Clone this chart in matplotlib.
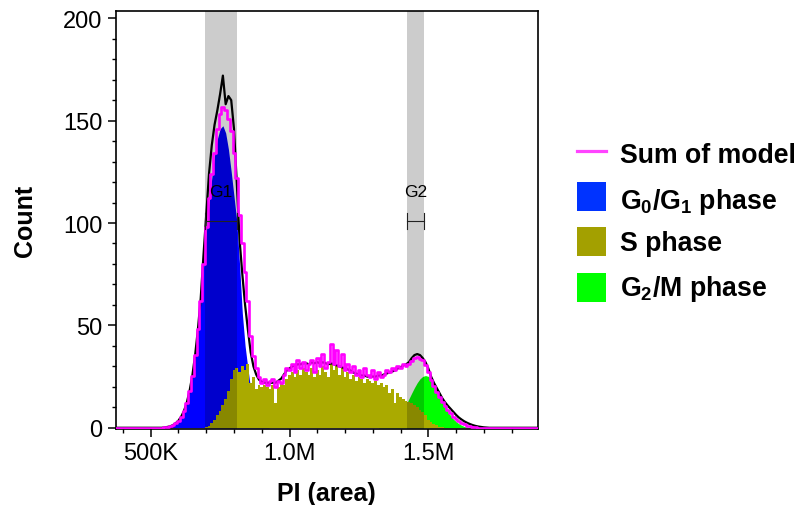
import numpy as np
import matplotlib
matplotlib.use("Agg")
import matplotlib.pyplot as plt
from matplotlib.patches import Rectangle
from matplotlib.lines import Line2D
from matplotlib.ticker import FixedLocator, MultipleLocator

plt.rcParams['font.family'] = ['Liberation Sans', 'DejaVu Sans']
plt.rcParams['mathtext.fontset'] = 'custom'
plt.rcParams['mathtext.rm'] = 'Liberation Sans:bold'
plt.rcParams['mathtext.it'] = 'Liberation Sans:bold'
plt.rcParams['mathtext.bf'] = 'Liberation Sans:bold'

# ---------------- data ----------------
bin_width = 10_000
axis_first_bin = 370_000
axis_last_bin = 1_900_000

g1_start = 550_000
g1_phase = [0.15, 0.3, 0.6, 1.2, 2.0, 3.3, 5.2, 8.0, 12, 17.5, 25, 35, 47, 61, 78, 95,
            109, 122, 133, 141, 146, 147.5, 144, 136, 125, 113, 101, 80, 56, 40, 29, 19,
            11, 6, 3, 1.5, 0.6, 0.2]

s_start = 700_000
s_phase = [0.3, 1, 2.5, 4, 6, 8, 11, 14, 18, 24, 28, 29, 27, 30, 28, 31, 22, 25, 19, 21,
           20, 21, 20, 19, 21, 12, 20, 22, 21, 24, 26, 27, 25, 28, 26, 29, 27, 26, 29, 25,
           28, 26, 30, 27, 25, 31, 28, 30, 26, 29, 25, 27, 24, 26, 23, 25, 24, 22, 24, 23,
           22, 23, 21, 22, 20, 21, 17, 19, 12, 17, 15, 14, 13, 12.5, 12, 11, 10, 8.5, 7.5,
           6, 4, 2.8, 2, 1.2, 0.6, 0.2, 0]

g2_start = 1_330_000
g2m_phase = [0.4, 0.6, 1.0, 1.6, 2.4, 3.5, 4.9, 6.7, 8.9, 11.3, 14.1, 16.9, 19.6, 22.0,
             23.9, 25.1, 25.5, 25.1, 23.9, 22.0, 19.6, 16.5, 13, 10.5, 8, 6, 4.3, 3, 2,
             1.2, 0.6, 0.3, 0.1, 0]

model_start = 550_000
sum_of_model = [0.2, 0.4, 0.7, 1.3, 2.2, 3.5, 5.5, 8.3, 12.3, 18, 25.5, 35.5, 48, 62, 80,
                98, 112, 124, 134, 146, 153, 156.5, 155, 151, 145, 134, 122, 104, 90, 76,
                62, 45, 35, 29, 25, 22, 24, 21, 23, 24, 20, 23, 22, 26, 29, 28, 31, 27, 33,
                29, 32, 28, 31, 33, 27, 34, 30, 36, 29, 32, 41, 31, 38, 30, 36, 28, 31, 27,
                30, 26, 28, 25, 29, 26, 25, 28, 24, 27, 25, 26, 28, 27, 29, 28, 30, 29, 31,
                30, 31, 32.5, 34, 34.5, 33.5, 33, 30.5, 27, 23.5, 20.5, 17.5, 15, 12.5,
                10.5, 8.5, 7, 5.5, 4.2, 3.1, 2.3, 1.6, 1.1, 0.7, 0.4, 0.2, 0.1, 0]

data_start = 550_000
measured_count = [0.2, 0.4, 0.7, 1.3, 2.2, 3.5, 5.5, 8.3, 12.3, 18, 25.5, 35.5, 48, 63, 84,
                  104, 124, 138, 148, 155, 163, 172, 158, 162, 160, 146, 120, 92, 75, 60,
                  48, 37, 30, 26, 23.5, 22.5, 22, 22, 22, 22, 22, 23, 24, 26, 28, 29, 30,
                  30.5, 31, 31, 31.5, 31.5, 31, 32, 31.5, 32, 31.5, 32, 31.5, 31, 31.5, 31,
                  30.5, 30, 29.5, 29, 28.5, 28, 27, 26.5, 26, 25.5, 25.5, 25, 25, 25, 25,
                  25.5, 25.5, 26, 26.5, 27, 27.5, 28, 29, 29.5, 30.5, 31, 32, 34, 35.5, 36,
                  35.5, 34, 32, 29, 25, 22, 19.5, 17, 14.5, 12.5, 10.8, 9.3, 7.8, 6.3, 5, 4,
                  3.1, 2.4, 1.8, 1.3, 0.9, 0.6, 0.4, 0.2, 0.1, 0]

gate_names = ["G1", "G2"]
gate_lo = [696_000, 1_423_000]
gate_hi = [810_000, 1_483_000]
gate_level = 101

x_ticks = [500_000, 1_000_000, 1_500_000]
x_tick_labels = ["500K", "1.0M", "1.5M"]
y_ticks = [0, 50, 100, 150, 200]
legend_labels = ["Sum of model", r"G$_0$/G$_1$ phase", "S phase", r"G$_2$/M phase"]

# ---------------- build arrays ----------------
x_full = np.arange(axis_first_bin, axis_last_bin + 1, bin_width, dtype=float)
edges = np.append(x_full - bin_width / 2, x_full[-1] + bin_width / 2)


def place(start, vals):
    arr = np.zeros(len(x_full))
    i0 = int(round((start - axis_first_bin) / bin_width))
    arr[i0:i0 + len(vals)] = vals
    return arr


g1 = place(g1_start, g1_phase)
s = place(s_start, s_phase)
g2 = place(g2_start, g2m_phase)
model = place(model_start, sum_of_model)
meas = place(data_start, measured_count)

# ---------------- figure ----------------
W, H = 801, 506
fig = plt.figure(figsize=(W / 100, H / 100), dpi=100)
ax = fig.add_axes([115.7 / W, 1 - 430 / H, 422 / W, (430 - 12.3) / H])

c_blue = '#0000FF'
c_olive = '#AAAA00'
c_green = '#00FF00'
c_mag = '#FF00FF'

ax.fill_between(x_full, g1, 0, color=c_blue, lw=0, zorder=1)
ax.fill_between(x_full, g2, 0, color=c_green, lw=0, zorder=2)
ax.stairs(s, edges, fill=True, color=c_olive, lw=0, zorder=3)

for lo, hi in zip(gate_lo, gate_hi):
    ax.axvspan(lo, hi, color='black', alpha=0.2, lw=0, zorder=4)

ax.plot(x_full, meas, color='black', lw=1.6, zorder=5)
ax.plot(x_full, model, color=c_mag, lw=1.9, drawstyle='steps-mid', zorder=6)

# gate markers
for name, lo, hi in zip(gate_names, gate_lo, gate_hi):
    ax.plot([lo, hi], [gate_level, gate_level], color='#222222', lw=0.8, zorder=7)
    ax.plot([lo, lo], [gate_level - 4, gate_level + 4], color='#222222', lw=0.8, zorder=7)
    ax.plot([hi, hi], [gate_level - 4, gate_level + 4], color='#222222', lw=0.8, zorder=7)
    ax.text((lo + hi) / 2, 115.5, name, ha='center', va='center', fontsize=12.5,
            color='black', zorder=8)

ax.set_xlim(373_900, 1_894_000)
ax.set_ylim(-0.6, 203.4)
ax.xaxis.set_major_locator(FixedLocator(x_ticks))
ax.set_xticklabels(x_tick_labels)
ax.xaxis.set_minor_locator(MultipleLocator(100_000))
ax.yaxis.set_major_locator(FixedLocator(y_ticks))
ax.yaxis.set_minor_locator(MultipleLocator(10))

ax.tick_params(which='major', length=6, width=1.1, labelsize=17, pad=3.5, color='black')
ax.tick_params(which='minor', length=3, width=1.0, color='black')
for sp in ax.spines.values():
    sp.set_linewidth(1.2)

ax.set_xlabel('PI (area)', fontsize=18, fontweight='bold')
ax.xaxis.set_label_coords(0.5, (430 - 494) / (430 - 12.3))
ax.xaxis.label.set_va('center')
ax.set_ylabel('Count', fontsize=18, fontweight='bold')
ax.yaxis.set_label_coords((24.5 - 115.7) / 422, 0.5)
ax.yaxis.label.set_va('center')

# ---------------- legend (manual, figure pixel coords) ----------------
def fx(px):
    return px / W


def fy(py):
    return 1 - py / H


square_centers = [197.2, 242.2, 288.3]
text_baselines = [163.2, 209, 251, 296.5]
fig.add_artist(Line2D([fx(577), fx(606)], [fy(151.7), fy(151.7)],
                      color='#FF44FF', lw=2.3))
for cy, col in zip(square_centers, ['#0033FF', '#A3A000', '#00FF00']):
    fig.add_artist(Rectangle((fx(577), fy(cy + 14.5)), 29 / W, 29 / H,
                             facecolor=col, edgecolor='none'))
for by, lab in zip(text_baselines, legend_labels):
    fig.text(fx(620), fy(by), lab, fontsize=19.2, fontweight='bold', ha='left',
             va='baseline')

fig.savefig('out.png', dpi=100)
